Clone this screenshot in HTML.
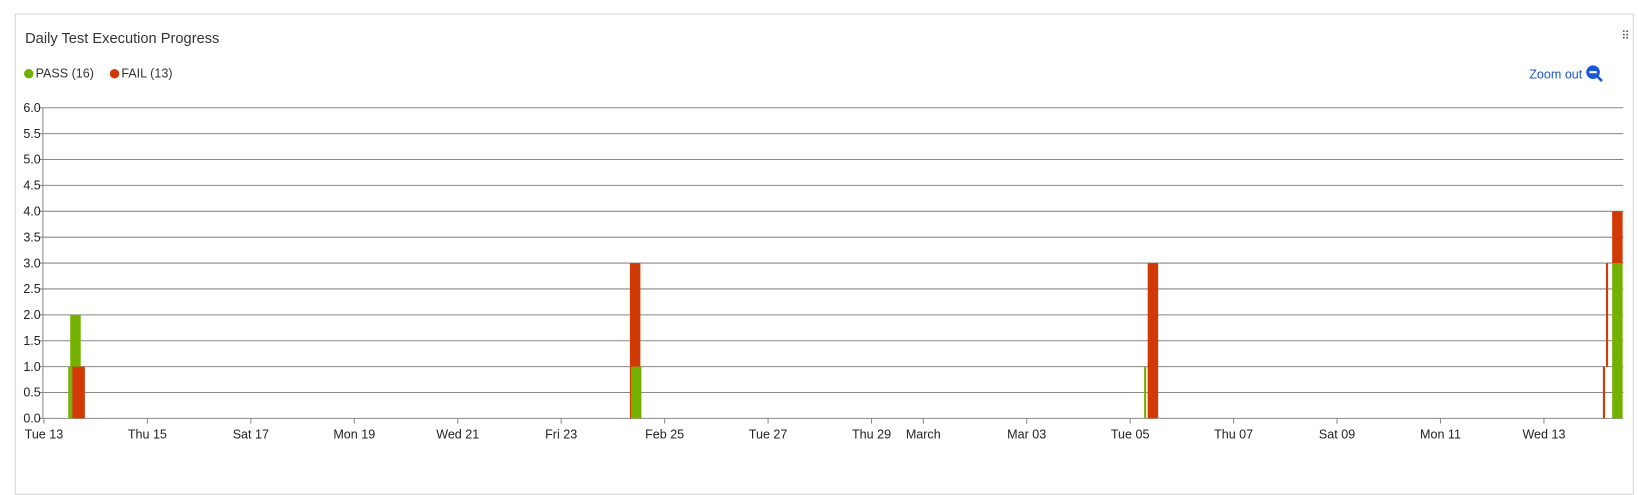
<!DOCTYPE html>
<html><head><meta charset="utf-8"><style>
body{margin:0;background:#fff;font-family:"Liberation Sans",Arial,sans-serif;overflow:hidden;width:1638px;height:466px}
#wrap{position:absolute;left:0;top:0;width:1566px;height:446px;transform:scale(1.046);transform-origin:0 0}
#card{position:absolute;left:14px;top:13px;width:1548px;height:460px;border:1px solid #d6d6d6;box-sizing:border-box;}
#title{position:absolute;left:24px;top:28px;font-size:14px;color:#333;}
.leg{position:absolute;top:63px;font-size:12px;color:#333;}
.dot{display:inline-block;width:9px;height:9px;border-radius:50%;margin-right:2px;vertical-align:-1px}
#zoom{position:absolute;left:1462px;top:62px;font-size:12px;color:#1a56d6;}
#grip{position:absolute;left:1550px;top:28px;font-size:11px;color:#555;letter-spacing:-1px}
</style></head><body>
<div id="wrap">
<div id="card"></div>
<div id="title">Daily Test Execution Progress</div>
<div class="leg" style="left:23px"><span class="dot" style="background:#6fb000"></span>PASS (16)</div>
<div class="leg" style="left:105px"><span class="dot" style="background:#d23a05"></span>FAIL (13)</div>
<div id="zoom">Zoom out <svg width="17" height="17" viewBox="0 0 17 17" style="vertical-align:-4px"><circle cx="7" cy="7" r="6.5" fill="#1a56d6"/><rect x="3.5" y="6" width="7" height="2" fill="#fff"/><line x1="11" y1="11" x2="15.5" y2="15.5" stroke="#1a56d6" stroke-width="2.5"/></svg></div>
<div id="grip">⠿</div>
<svg id="chart" width="1566" height="446" style="position:absolute;left:0;top:0"></svg>
</div>
<script>
const yTicks=[0,0.5,1,1.5,2,2.5,3,3.5,4,4.5,5,5.5,6];
const xTickDays=[0,2,4,6,8,10,12,14,16,17,19,21,23,25,27,29];
const xTickLabels=["Tue 13","Thu 15","Sat 17","Mon 19","Wed 21","Fri 23","Feb 25","Tue 27","Thu 29","March","Mar 03","Tue 05","Thu 07","Sat 09","Mon 11","Wed 13"];
const markDays=[0.49,0.61,0.57,0.69,11.43,11.45,21.29,21.44,30.16,30.22,30.42,30.42];
const markLow=[0,0,0,0,0,0,0,0,0,1,0,3];
const markHigh=[1,2,1,1,3,1,1,3,1,3,3,4];
const markSeries=["pass","pass","fail","fail","fail","pass","pass","fail","fail","fail","pass","fail"];
const markKind=["thin","wide","thin","wide","wide","wide","thin","wide","thin","thin","wide","wide"];
const NS="http://www.w3.org/2000/svg";
const svg=document.getElementById('chart');
const X0=42,DX=49.45,Y0=400,DY=49.5,XL=41,XR=1552;
const xs=d=>X0+d*DX, ys=v=>Y0-v*DY;
function mk(t,a){const e=document.createElementNS(NS,t);for(const k in a)e.setAttribute(k,a[k]);svg.appendChild(e);return e;}
yTicks.forEach(v=>{
 const l=mk('line',{x1:XL-4,x2:XR,y1:ys(v),y2:ys(v),stroke:'#888','stroke-width':1});
 
 
 const t=mk('text',{x:XL-2,y:ys(v)+4,'text-anchor':'end','font-size':12,fill:'#222','font-family':'Liberation Sans, sans-serif'});
 t.textContent=v.toFixed(1);
 
 
});
const ax=mk('line',{x1:XL,x2:XL,y1:ys(6),y2:Y0,stroke:'#888'});


xTickDays.forEach((d,i)=>{
 const tk=mk('line',{x1:xs(d),x2:xs(d),y1:Y0,y2:Y0+5,stroke:'#888'});
 
 
 const t=mk('text',{x:xs(d),y:Y0+19,'text-anchor':'middle','font-size':12,fill:'#222','font-family':'Liberation Sans, sans-serif'});
 t.textContent=xTickLabels[i];
 
 
});
markDays.forEach((d,i)=>{
 const w=markKind[i]==='thin'?2:10;
 const r=mk('rect',{x:xs(d)-w/2,y:ys(markHigh[i]),width:w,height:ys(markLow[i])-ys(markHigh[i]),fill:markSeries[i]==='pass'?'#74b000':'#d23a05'});
 
 
});
</script>
</body></html>
